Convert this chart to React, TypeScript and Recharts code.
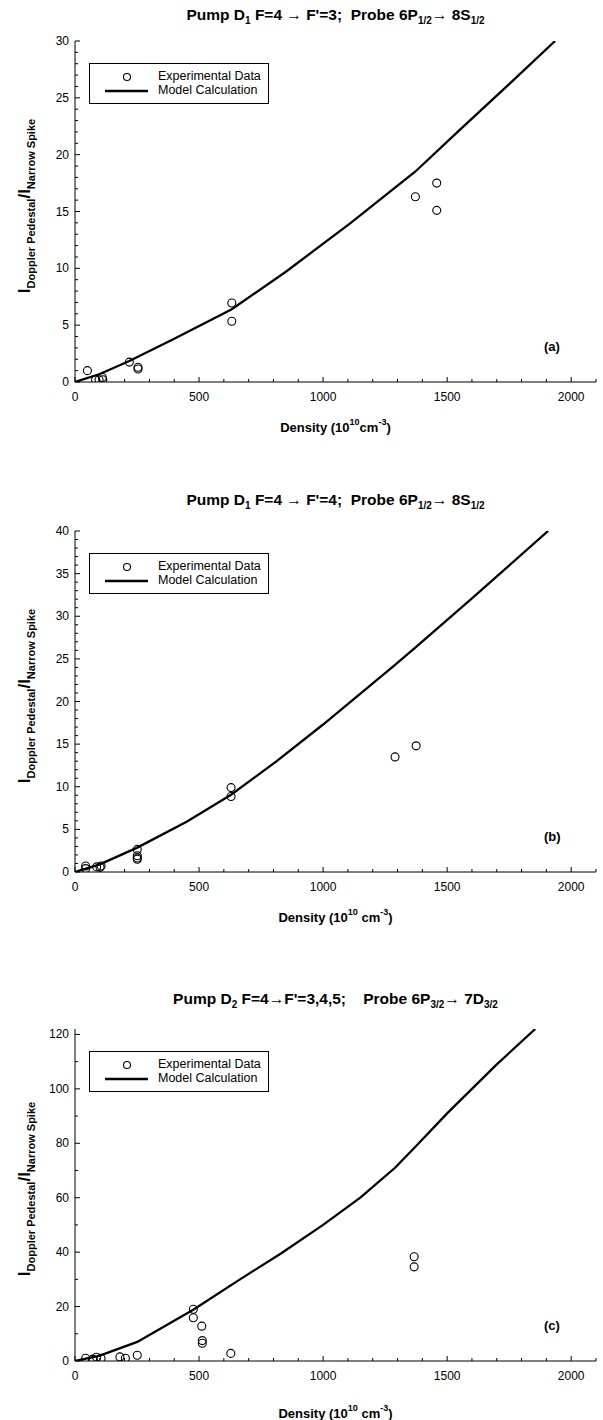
import React from "react";
import { ComposedChart, Line, Scatter, XAxis, YAxis, Legend } from "recharts";

// density axis, shared by all three panels
const densityMajors = [0, 500, 1000, 1500, 2000];

// (a) pump D1 F=4 -> F'=3
const expA = [
  { x: 50, y: 1.0 }, { x: 83, y: 0.2 }, { x: 97, y: 0.2 }, { x: 110, y: 0.4 },
  { x: 112, y: 0.2 }, { x: 219, y: 1.75 }, { x: 254, y: 1.3 }, { x: 254, y: 1.15 },
  { x: 632, y: 6.95 }, { x: 632, y: 5.35 }, { x: 1372, y: 16.3 }, { x: 1458, y: 17.5 },
  { x: 1458, y: 15.1 }
];
const modelA = [
  { x: 0, y: 0 }, { x: 100, y: 0.7 }, { x: 219, y: 1.85 }, { x: 400, y: 3.8 },
  { x: 632, y: 6.4 }, { x: 850, y: 9.7 }, { x: 1109, y: 13.96 }, { x: 1371, y: 18.5 },
  { x: 1552, y: 22.2 }, { x: 1750, y: 26.2 }, { x: 1935, y: 30 }
];
const yMajorsA = [0, 5, 10, 15, 20, 25, 30];

// (b) pump D1 F=4 -> F'=4
const expB = [
  { x: 43, y: 0.7 }, { x: 43, y: 0.4 }, { x: 87, y: 0.6 }, { x: 101, y: 0.55 },
  { x: 105, y: 0.7 }, { x: 251, y: 2.65 }, { x: 251, y: 1.9 }, { x: 251, y: 1.65 },
  { x: 251, y: 1.5 }, { x: 629, y: 9.9 }, { x: 629, y: 8.85 }, { x: 1290, y: 13.5 },
  { x: 1375, y: 14.8 }
];
const modelB = [
  { x: 0, y: 0 }, { x: 100, y: 0.9 }, { x: 251, y: 2.86 }, { x: 450, y: 5.9 },
  { x: 629, y: 9.06 }, { x: 813, y: 13.0 }, { x: 1000, y: 17.3 }, { x: 1290, y: 24.3 },
  { x: 1375, y: 26.4 }, { x: 1600, y: 32.1 }, { x: 1907, y: 40 }
];
const yMajorsB = [0, 5, 10, 15, 20, 25, 30, 35, 40];

// (c) pump D2 F=4 -> F'=3,4,5
const expC = [
  { x: 43, y: 1.0 }, { x: 71, y: 0.7 }, { x: 87, y: 1.4 }, { x: 105, y: 1.0 },
  { x: 181, y: 1.5 }, { x: 203, y: 1.0 }, { x: 251, y: 2.1 }, { x: 477, y: 19 },
  { x: 477, y: 15.9 }, { x: 511, y: 12.8 }, { x: 513, y: 7.5 }, { x: 513, y: 6.5 },
  { x: 628, y: 2.8 }, { x: 1367, y: 38.3 }, { x: 1367, y: 34.6 }
];
const modelC = [
  { x: 0, y: 0 }, { x: 100, y: 2 }, { x: 251, y: 7 }, { x: 480, y: 19 },
  { x: 665, y: 30 }, { x: 830, y: 39.5 }, { x: 1000, y: 50 }, { x: 1150, y: 60 },
  { x: 1290, y: 71 }, { x: 1375, y: 79 }, { x: 1500, y: 91 }, { x: 1700, y: 109 },
  { x: 1855, y: 122 }
];
const yMajorsC = [0, 20, 40, 60, 80, 100, 120];

const FONT = "'Liberation Sans', Arial, Helvetica, sans-serif";
const W = 603;
const H = 440;
const PLOT_LEFT = 75;
const PLOT_RIGHT = 596;
const PLOT_MID = (PLOT_LEFT + PLOT_RIGHT) / 2;

const steps = (max: number, step: number) => {
  const out: number[] = [];
  for (let v = 0; v <= max + 1e-9; v += step) out.push(Math.round(v * 100) / 100);
  return out;
};

type Side = "bottom" | "top" | "left" | "right";

function makeTick(side: Side, majors: number[], labels: boolean) {
  return (props: any) => {
    const { x, y, payload } = props;
    const v = payload.value;
    const major = majors.includes(v);
    const len = major ? 5 : 3;
    let tick;
    if (side === "bottom") tick = <line x1={x} x2={x} y1={y} y2={y - len} stroke="#000" />;
    else if (side === "top") tick = <line x1={x} x2={x} y1={y} y2={y + len} stroke="#000" />;
    else if (side === "left") tick = <line x1={x} x2={x + len} y1={y} y2={y} stroke="#000" />;
    else tick = <line x1={x} x2={x - len} y1={y} y2={y} stroke="#000" />;
    let label = null;
    if (labels && major) {
      if (side === "bottom")
        label = (
          <text x={x} y={y + 19} textAnchor="middle" fontSize={12} fontFamily={FONT} fill="#000">
            {v}
          </text>
        );
      if (side === "left")
        label = (
          <text x={x - 6} y={y + 4} textAnchor="end" fontSize={12} fontFamily={FONT} fill="#000">
            {v}
          </text>
        );
    }
    return (
      <g>
        {tick}
        {label}
      </g>
    );
  };
}

const ring = (p: any) => (
  <circle cx={p.cx} cy={p.cy} r={4} fill="none" stroke="#000" strokeWidth={1.1} />
);

const sub = { fontSize: 10, verticalAlign: "-4px" } as React.CSSProperties;
const ySub = { fontSize: 11, verticalAlign: "-5px" } as React.CSSProperties;
const sup = { fontSize: 9, verticalAlign: "7px" } as React.CSSProperties;

function LegendBox() {
  return (
    <div
      style={{
        width: 178,
        height: 39,
        border: "1px solid #000",
        background: "#fff",
        fontFamily: FONT,
        fontSize: 12.5,
        position: "relative"
      }}
    >
      <svg width={66} height={39} style={{ position: "absolute", left: 0, top: 0 }}>
        <circle cx={37} cy={13} r={3.5} fill="none" stroke="#000" strokeWidth={1.1} />
        <line x1={15} x2={58} y1={27} y2={27} stroke="#000" strokeWidth={2.3} />
      </svg>
      <div style={{ position: "absolute", left: 68, top: 5, lineHeight: "15px" }}>
        Experimental Data
      </div>
      <div style={{ position: "absolute", left: 68, top: 19, lineHeight: "15px" }}>
        Model Calculation
      </div>
    </div>
  );
}

interface PanelProps {
  top: number;
  plotTop: number;
  plotBottom: number;
  yMax: number;
  yMajors: number[];
  yMinorStep: number;
  exp: { x: number; y: number }[];
  model: { x: number; y: number }[];
  title: React.ReactNode;
  titleY: number;
  xLabel: React.ReactNode;
  xLabelGap: number;
  tag: string;
}

function Panel(p: PanelProps) {
  const yTicks = steps(p.yMax, p.yMinorStep).filter(v => v <= p.yMax);
  const xTicks = steps(2100, 100);
  const plotH = p.plotBottom - p.plotTop;
  return (
    <div style={{ position: "absolute", left: 0, top: p.top, width: W, height: H }}>
      <div
        style={{
          position: "absolute",
          left: PLOT_MID - 250,
          width: 500,
          top: p.titleY - 10,
          textAlign: "center",
          fontFamily: FONT,
          fontWeight: "bold",
          fontSize: 15.5,
          whiteSpace: "pre",
          lineHeight: "20px"
        }}
      >
        {p.title}
      </div>
      <ComposedChart
        width={W}
        height={H}
        margin={{ top: p.plotTop, right: W - PLOT_RIGHT, bottom: H - p.plotBottom - 30, left: PLOT_LEFT - 40 }}
      >
        <XAxis
          xAxisId={0}
          type="number"
          dataKey="x"
          domain={[0, 2100]}
          allowDataOverflow
          ticks={xTicks}
          interval={0}
          tickSize={0}
          tickMargin={0}
          height={30}
          axisLine={{ stroke: "#000" }}
          tick={makeTick("bottom", densityMajors, true)}
        />
        <XAxis
          xAxisId="top"
          orientation="top"
          type="number"
          dataKey="x"
          domain={[0, 2100]}
          allowDataOverflow
          ticks={xTicks}
          interval={0}
          tickSize={0}
          tickMargin={0}
          height={0}
          axisLine={{ stroke: "#000" }}
          tick={makeTick("top", densityMajors, false)}
        />
        <YAxis
          yAxisId={0}
          type="number"
          domain={[0, p.yMax]}
          allowDataOverflow
          ticks={yTicks}
          interval={0}
          tickSize={0}
          tickMargin={0}
          width={40}
          axisLine={{ stroke: "#000" }}
          tick={makeTick("left", p.yMajors, true)}
        />
        <YAxis
          yAxisId="right"
          orientation="right"
          type="number"
          domain={[0, p.yMax]}
          allowDataOverflow
          ticks={yTicks}
          interval={0}
          tickSize={0}
          tickMargin={0}
          width={0}
          axisLine={{ stroke: "#000" }}
          tick={makeTick("right", p.yMajors, false)}
        />
        <Legend
          layout="horizontal"
          align="center"
          verticalAlign="middle"
          wrapperStyle={{ left: 89, top: p.plotTop + 22, width: 180, height: 41 }}
          content={() => <LegendBox />}
        />
        <Line
          data={p.model}
          dataKey="y"
          type="linear"
          stroke="#000"
          strokeWidth={2.3}
          dot={false}
          isAnimationActive={false}
        />
        <Scatter data={p.exp} dataKey="y" shape={ring} isAnimationActive={false} />
      </ComposedChart>
      <div
        style={{
          position: "absolute",
          left: 25 - 150,
          top: p.plotTop + plotH / 2 - 18,
          width: 300,
          height: 24,
          textAlign: "center",
          transform: "rotate(-90deg)",
          fontFamily: FONT,
          fontWeight: "bold",
          fontSize: 17,
          lineHeight: "24px",
          whiteSpace: "nowrap"
        }}
      >
        I<span style={ySub}>Doppler Pedestal</span>/I<span style={ySub}>Narrow Spike</span>
      </div>
      <div
        style={{
          position: "absolute",
          left: PLOT_MID - 150,
          width: 300,
          top: p.plotBottom + p.xLabelGap - 9,
          textAlign: "center",
          fontFamily: FONT,
          fontWeight: "bold",
          fontSize: 13,
          lineHeight: "18px"
        }}
      >
        {p.xLabel}
      </div>
      <div
        style={{
          position: "absolute",
          left: 544,
          top: p.plotBottom - 43,
          fontFamily: FONT,
          fontWeight: "bold",
          fontSize: 13,
          lineHeight: "16px"
        }}
      >
        {p.tag}
      </div>
    </div>
  );
}

export default function App() {
  return (
    <div style={{ position: "absolute", left: 0, top: 0, width: W, height: 1420, background: "#fff" }}>
      <Panel
        top={0}
        plotTop={41}
        plotBottom={382}
        yMax={30}
        yMajors={yMajorsA}
        yMinorStep={1}
        exp={expA}
        model={modelA}
        titleY={15}
        title={
          <>
            Pump D<span style={sub}>1</span> F=4 → F'=3;  Probe 6P<span style={sub}>1/2</span>→ 8S
            <span style={sub}>1/2</span>
          </>
        }
        xLabel={
          <>
            Density (10<span style={sup}>10</span>cm<span style={sup}>-3</span>)
          </>
        }
        xLabelGap={40}
        tag="(a)"
      />
      <Panel
        top={480}
        plotTop={51}
        plotBottom={392}
        yMax={40}
        yMajors={yMajorsB}
        yMinorStep={1}
        exp={expB}
        model={modelB}
        titleY={20}
        title={
          <>
            Pump D<span style={sub}>1</span> F=4 → F'=4;  Probe 6P<span style={sub}>1/2</span>→ 8S
            <span style={sub}>1/2</span>
          </>
        }
        xLabel={
          <>
            Density (10<span style={sup}>10</span> cm<span style={sup}>-3</span>)
          </>
        }
        xLabelGap={40}
        tag="(b)"
      />
      <Panel
        top={980}
        plotTop={49}
        plotBottom={381}
        yMax={122}
        yMajors={yMajorsC}
        yMinorStep={10}
        exp={expC}
        model={modelC}
        titleY={19}
        title={
          <>
            Pump D<span style={sub}>2</span> F=4→F'=3,4,5;    Probe 6P<span style={sub}>3/2</span>→ 7D
            <span style={sub}>3/2</span>
          </>
        }
        xLabel={
          <>
            Density (10<span style={sup}>10</span> cm<span style={sup}>-3</span>)
          </>
        }
        xLabelGap={47}
        tag="(c)"
      />
    </div>
  );
}
